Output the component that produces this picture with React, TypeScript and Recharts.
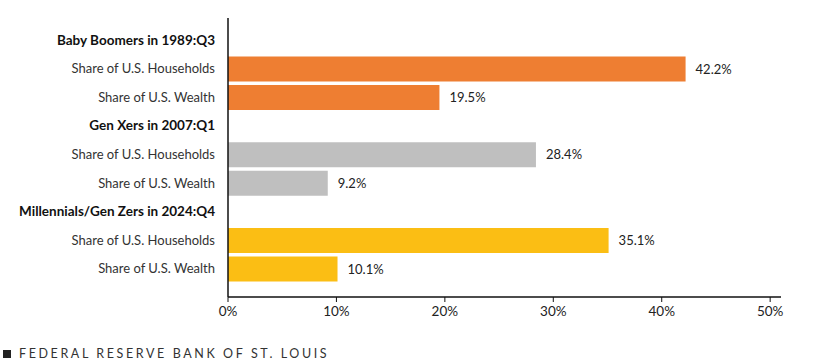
import React from "react";
import { BarChart, Bar, XAxis, YAxis, Cell, LabelList } from "recharts";

const groups = [
  "Baby Boomers in 1989:Q3",
  "Gen Xers in 2007:Q1",
  "Millennials/Gen Zers in 2024:Q4",
];
const measures = ["Share of U.S. Households", "Share of U.S. Wealth"];
const households = [42.2, 28.4, 35.1];
const wealth = [19.5, 9.2, 10.1];
const groupColors = ["#EE7E32", "#BFBFBF", "#FBBE14"];
const xTicks = [0, 10, 20, 30, 40, 50];

// header row followed by the two bars for each generation
const rows: any[] = [];
groups.forEach((g, i) => {
  rows.push({ id: rows.length, label: g, header: true, value: null, color: "none" });
  rows.push({ id: rows.length, label: measures[0], header: false, value: households[i], color: groupColors[i] });
  rows.push({ id: rows.length, label: measures[1], header: false, value: wealth[i], color: groupColors[i] });
});

const FONT = "Lato, 'Open Sans', sans-serif";

function CategoryTick(props: any) {
  const { x, y, payload } = props;
  const row = rows[payload.value];
  if (!row) return null;
  return (
    <text
      x={x}
      y={y}
      dy={4.5}
      textAnchor="end"
      fontFamily={FONT}
      fontSize={row.header ? 13.5 : 13}
      fontWeight={row.header ? 700 : 400}
      fill={row.header ? "#111" : "#333"}
    >
      {row.label}
    </text>
  );
}

export default function App() {
  return (
    <div
      style={{
        position: "absolute",
        left: 0,
        top: 0,
        width: 826,
        height: 364,
        background: "#fff",
        fontFamily: FONT,
      }}
    >
      <BarChart
        width={826}
        height={340}
        data={rows}
        layout="vertical"
        margin={{ top: 18, right: 45, bottom: 13, left: 0 }}
        barCategoryGap={3}
      >
        <XAxis
          type="number"
          domain={[0, 51]}
          ticks={xTicks}
          allowDataOverflow
          tickFormatter={(v: number) => v + "%"}
          axisLine={{ stroke: "#111", strokeWidth: 1.5 }}
          tickLine={{ stroke: "#111" }}
          tickSize={5}
          tickMargin={4}
          height={30}
          tick={{ fontFamily: FONT, fontSize: 13.5, fill: "#222" }}
        />
        <YAxis
          type="category"
          dataKey="id"
          width={228}
          axisLine={{ stroke: "#111", strokeWidth: 1.5 }}
          tickLine={false}
          tickSize={0}
          tickMargin={13}
          interval={0}
          padding={{ top: 8, bottom: 14 }}
          tick={<CategoryTick />}
        />
        <Bar dataKey="value" barSize={25} isAnimationActive={false}>
          {rows.map((r) => (
            <Cell key={r.id} fill={r.color} />
          ))}
          <LabelList
            dataKey="value"
            position="right"
            offset={10}
            formatter={(v: any) => (v == null ? "" : v.toFixed(1) + "%")}
            style={{ fontFamily: FONT, fontSize: 13, fill: "#222" }}
          />
        </Bar>
      </BarChart>
      <div
        style={{
          position: "absolute",
          left: 3,
          top: 346,
          fontSize: 12.5,
          letterSpacing: 2.6,
          color: "#333",
          fontFamily: FONT,
          whiteSpace: "nowrap",
        }}
      >
        <span style={{ display: "inline-block", width: 8, height: 8, background: "#222", marginRight: 8 }} />
        FEDERAL RESERVE BANK OF ST. LOUIS
      </div>
    </div>
  );
}
